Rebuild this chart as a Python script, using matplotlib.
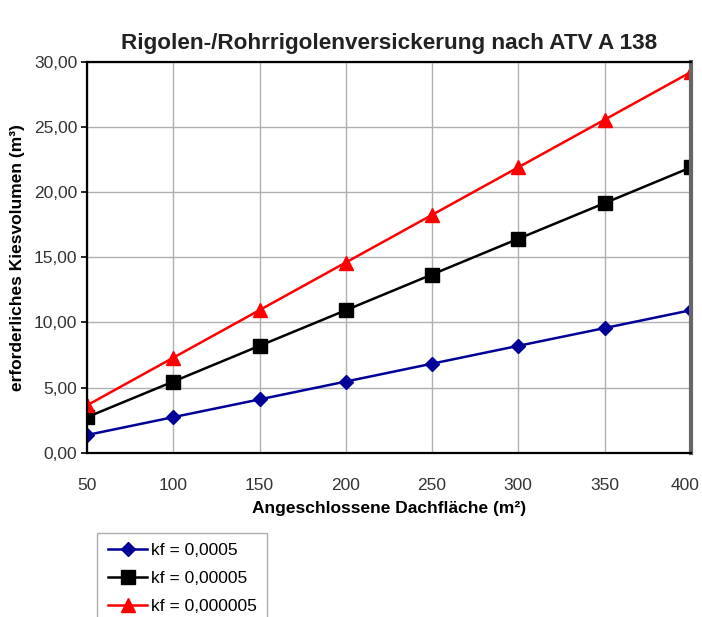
import matplotlib
matplotlib.use("Agg")
import matplotlib.pyplot as plt
import matplotlib.transforms as mtransforms
from matplotlib.ticker import FuncFormatter

plt.rcParams['font.family'] = ['Liberation Sans', 'DejaVu Sans']

# connected roof area (m²) and required gravel volume (m³) per kf value
flaeche = [50, 100, 150, 200, 250, 300, 350, 400]
vol_kf_0005 = [1.37, 2.74, 4.10, 5.47, 6.84, 8.21, 9.57, 10.94]
vol_kf_00005 = [2.74, 5.47, 8.21, 10.94, 13.68, 16.42, 19.15, 21.89]
vol_kf_000005 = [3.65, 7.30, 10.95, 14.60, 18.25, 21.90, 25.55, 29.20]
labels = ['kf = 0,0005', 'kf = 0,00005', 'kf = 0,000005']

fig = plt.figure(figsize=(7.02, 6.17), dpi=100)
ax = fig.add_axes([0.124, 0.266, 0.860, 0.634])

l1, = ax.plot(flaeche, vol_kf_0005, color='#000099', marker='D', markersize=7, lw=1.8)
l2, = ax.plot(flaeche, vol_kf_00005, color='black', marker='s', markersize=9.5, lw=1.8)
l3, = ax.plot(flaeche, vol_kf_000005, color='red', marker='^', markersize=10.5, lw=1.8)

ax.set_xlim(50, 400)
ax.set_ylim(0, 30)
ax.set_xticks(range(50, 401, 50))
ax.set_yticks(range(0, 31, 5))
ax.yaxis.set_major_formatter(FuncFormatter(lambda v, p: f"{v:.2f}".replace('.', ',')))
ax.grid(True, color='#b0b0b0', lw=1)
ax.set_axisbelow(True)
for s in ax.spines.values():
    s.set_linewidth(1.6)
ax.spines['right'].set_color('#666666')
ax.spines['right'].set_linewidth(3)
ax.tick_params(axis='y', length=4, width=1.2, pad=3, labelsize=12.5)
ax.tick_params(axis='x', length=0, pad=18, labelsize=12.5)
for t in ax.get_xticklabels() + ax.get_yticklabels():
    t.set_color('#333333')

# keep the last x label inside the figure edge
fig.canvas.draw()
last = ax.get_xticklabels()[-1]
last.set_horizontalalignment('right')
last.set_transform(last.get_transform() + mtransforms.ScaledTranslation(9 / 100, 0, fig.dpi_scale_trans))

ax.set_xlabel('Angeschlossene Dachfläche (m²)', fontsize=12.5, fontweight='bold', labelpad=6)
ax.set_ylabel('erforderliches Kiesvolumen (m³)', fontsize=12.5, fontweight='bold', labelpad=6)
fig.text(0.555, 0.930, 'Rigolen-/Rohrrigolenversickerung nach ATV A 138',
         ha='center', va='center', fontsize=16.2, fontweight='bold', color='#222222')

leg = fig.legend([l1, l2, l3], labels, loc='upper left', bbox_to_anchor=(0.126, 0.151),
                 fontsize=12.5, frameon=True, fancybox=False, edgecolor='#999999',
                 handlelength=2.3, handletextpad=0.2, labelspacing=0.73, borderpad=0.6)
leg.get_frame().set_linewidth(1)

fig.savefig('out.png', dpi=100)
